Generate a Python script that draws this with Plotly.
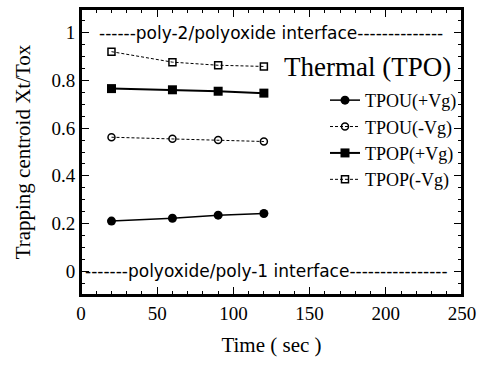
import plotly.graph_objects as go

time_s = [20, 60, 90, 120]
tpou_pos = [0.210, 0.222, 0.235, 0.242]
tpou_neg = [0.562, 0.556, 0.550, 0.544]
tpop_pos = [0.766, 0.761, 0.755, 0.747]
tpop_neg = [0.921, 0.877, 0.864, 0.859]

x_range = [0, 250]
y_range = [-0.1, 1.1]
x_tick_step = 50
x_minor_step = 10
y_tick_step = 0.2
y_minor_step = 0.05

top_label = "------poly-2/polyoxide interface--------------"
bottom_label = "-------polyoxide/poly-1 interface----------------"
title_label = "Thermal (TPO)"

serif = "Liberation Serif"
sans = "DejaVu Sans"

fig = go.Figure()
fig.add_trace(go.Scatter(x=time_s, y=tpou_pos, name="TPOU(+Vg)", mode="lines+markers",
                         line=dict(color="black", width=1.5),
                         marker=dict(symbol="circle", size=9, color="black")))
fig.add_trace(go.Scatter(x=time_s, y=tpou_neg, name="TPOU(-Vg)", mode="lines+markers",
                         line=dict(color="black", width=1, dash="3px,2px"),
                         marker=dict(symbol="circle-open", size=7, color="black", line=dict(width=1.5))))
fig.add_trace(go.Scatter(x=time_s, y=tpop_pos, name="TPOP(+Vg)", mode="lines+markers",
                         line=dict(color="black", width=2),
                         marker=dict(symbol="square", size=9, color="black")))
fig.add_trace(go.Scatter(x=time_s, y=tpop_neg, name="TPOP(-Vg)", mode="lines+markers",
                         line=dict(color="black", width=1, dash="3px,2px"),
                         marker=dict(symbol="square-open", size=7, color="black", line=dict(width=1.5))))

fig.add_annotation(x=10.4, y=1, xanchor="left", yanchor="middle", text=top_label, showarrow=False,
                   font=dict(family=sans, size=17, color="black"))
fig.add_annotation(x=1.3, y=0, xanchor="left", yanchor="middle", text=bottom_label, showarrow=False,
                   font=dict(family=sans, size=17, color="black"))
fig.add_annotation(x=244, y=0.855, xanchor="right", yanchor="middle", text=title_label, showarrow=False,
                   font=dict(family=serif, size=27, color="black"))

# plot frame
fig.add_shape(type="rect", xref="paper", yref="paper", x0=0, x1=1, y0=0, y1=1,
              line=dict(color="black", width=2), fillcolor="rgba(0,0,0,0)", layer="above")

axis_common = dict(showline=True, linecolor="black", linewidth=2, mirror="allticks",
                   ticks="inside", ticklen=8, tickwidth=1.2, tickcolor="black",
                   showgrid=False, zeroline=False,
                   tickfont=dict(family=serif, size=19, color="black"))

fig.update_layout(
    xaxis=dict(range=x_range, dtick=x_tick_step,
               minor=dict(ticks="inside", dtick=x_minor_step, ticklen=4, tickwidth=1.2, tickcolor="black"),
               title=dict(text="Time ( sec )", font=dict(family=serif, size=21, color="black")),
               **axis_common),
    yaxis=dict(range=y_range, dtick=y_tick_step,
               minor=dict(ticks="inside", dtick=y_minor_step, ticklen=4, tickwidth=1.2, tickcolor="black"),
               title=dict(text="Trapping centroid Xt/Tox", font=dict(family=serif, size=21, color="black")),
               **axis_common),
    width=483, height=366,
    margin=dict(l=81, r=17, t=7, b=71),
    paper_bgcolor="white", plot_bgcolor="white",
    showlegend=True,
    legend=dict(x=1.0, y=0.745, xanchor="right", yanchor="top",
                bgcolor="rgba(0,0,0,0)", font=dict(family=serif, size=18, color="black")),
)

fig.write_html("out.html")
